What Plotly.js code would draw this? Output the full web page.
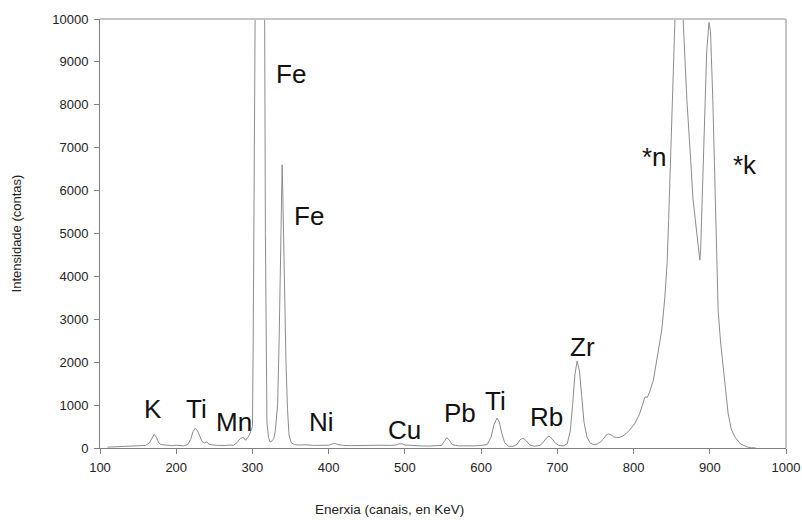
<!DOCTYPE html>
<html>
<head>
<meta charset="utf-8">
<script src="https://cdn.plot.ly/plotly-3.0.1.min.js"></script>
<style>html,body{margin:0;padding:0;background:#fff;}#chart{width:802px;height:520px;}</style>
</head>
<body>
<div id="chart"></div>
<script>
// Channel (energy) values and counts
const channels = [110,120,130,140,145,150,155,160,165,168,171,174,177,180,185,190,195,200,205,210,215,219,222,225,228,231,234,237,240,243,248,255,260,265,270,275,280,284,288,291,294,296,298,300,301,302,303,304,308,310,314,316,317,318,319,321,323,326,328,330,333,335,337,339,340,342,344,346,348,351,355,360,370,380,390,400,404,408,412,420,430,440,450,460,470,480,488,492,496,500,510,520,530,540,548,552,555,558,562,570,580,590,600,608,613,617,621,624,627,631,636,642,647,651,655,659,664,670,677,681,685,689,693,697,702,708,713,717,720,723,726,729,732,735,739,743,747,752,756,760,764,767,770,774,778,782,786,790,795,802,808,812,815,818,821,826,831,837,841,844,846,849,852,854,857,860,863,865,870,875,878,883,886,887,888,891,894,896,899,901,904,907,909,911,914,917,920,924,928,933,940,949,955,960];
const counts   = [20,25,30,35,45,40,55,60,120,220,320,250,120,80,70,60,55,65,60,50,80,200,380,460,400,250,150,120,140,90,70,60,55,60,70,60,130,220,250,180,250,300,400,500,2500,6000,9000,11500,18000,18000,14000,10200,5000,1100,600,250,140,170,220,400,1000,2500,5200,6600,5800,3800,2000,900,300,120,80,70,75,60,70,65,90,110,80,60,55,60,55,60,65,60,70,95,100,70,55,50,45,50,60,160,240,190,80,50,45,50,60,80,250,550,700,600,350,120,40,40,80,190,230,170,70,40,60,120,220,280,220,120,60,50,100,400,1000,1700,2030,1800,1200,600,250,120,80,90,130,200,300,330,310,260,240,250,280,330,420,580,800,1050,1190,1180,1300,1580,2100,2750,3500,4300,5300,7000,9000,10300,11500,12000,11000,10000,8100,6700,5800,5000,4500,4380,4610,6240,7700,9270,9920,9700,8100,6000,4500,3200,2500,1980,1400,815,450,256,100,23,5,3];

// Element labels and where they sit (data coordinates)
const labels  = ["K","Ti","Mn","Fe","Fe","Ni","Cu","Pb","Ti","Rb","Zr","*n","*k"];
const labelX  = [168.9,226.6,275.2,350.6,374.2,390,499.5,571.7,618.9,685.8,733,827.5,946.2];
const labelY  = [900,900,595,8720,5415,595,410,805,1085,712,2350,6790,6590];

const xTicks = [100,200,300,400,500,600,700,800,900,1000];
const yTicks = [0,1000,2000,3000,4000,5000,6000,7000,8000,9000,10000];
const xTitle = 'Enerxia (canais, en KeV)';
const yTitle = 'Intensidade (contas)';

const FONT = '"Liberation Sans", Arial, sans-serif';

const trace = {
  x: channels, y: counts, type: 'scatter', mode: 'lines',
  line: {color: '#8c8c8c', width: 1}, hoverinfo: 'x+y', showlegend: false
};

const annotations = labels.map((t, i) => ({
  x: labelX[i], y: labelY[i], xref: 'x', yref: 'y', text: t, showarrow: false,
  xanchor: 'center', yanchor: 'middle',
  font: {family: FONT, size: 26, color: '#111'}
}));
annotations.push({
  x: 0.4213, y: -0.1444, xref: 'paper', yref: 'paper', text: xTitle, showarrow: false,
  xanchor: 'center', yanchor: 'middle',
  font: {family: FONT, size: 13.5, color: '#222'}
});

const layout = {
  width: 802, height: 520,
  margin: {l: 100, r: 16, t: 19, b: 72},
  paper_bgcolor: '#fff', plot_bgcolor: '#fff',
  font: {family: FONT, color: '#222', size: 13},
  xaxis: {
    range: [100, 1000], tickvals: xTicks, ticktext: xTicks.map(String),
    showgrid: false, zeroline: false, showline: true, linecolor: '#808080', linewidth: 1,
    ticks: 'outside', ticklen: 5, tickcolor: '#808080', ticklabelstandoff: 2,
    tickfont: {family: FONT, size: 13, color: '#222'}
  },
  yaxis: {
    range: [0, 10000], tickvals: yTicks, ticktext: yTicks.map(String),
    showgrid: false, zeroline: false, showline: true, linecolor: '#808080', linewidth: 1,
    ticks: 'outside', ticklen: 5, tickcolor: '#808080', ticklabelstandoff: 3,
    tickfont: {family: FONT, size: 13, color: '#222'},
    title: {text: yTitle, font: {family: FONT, size: 13, color: '#222'}, standoff: 27}
  },
  shapes: [
    {type: 'line', xref: 'paper', yref: 'paper', x0: 0, x1: 1, y0: 1, y1: 1, line: {color: '#c4c4c4', width: 2}},
    {type: 'line', xref: 'paper', yref: 'paper', x0: 1, x1: 1, y0: 0, y1: 1, line: {color: '#c4c4c4', width: 2}}
  ],
  annotations: annotations
};

Plotly.newPlot('chart', [trace], layout, {displayModeBar: false, staticPlot: true});
</script>
</body>
</html>
